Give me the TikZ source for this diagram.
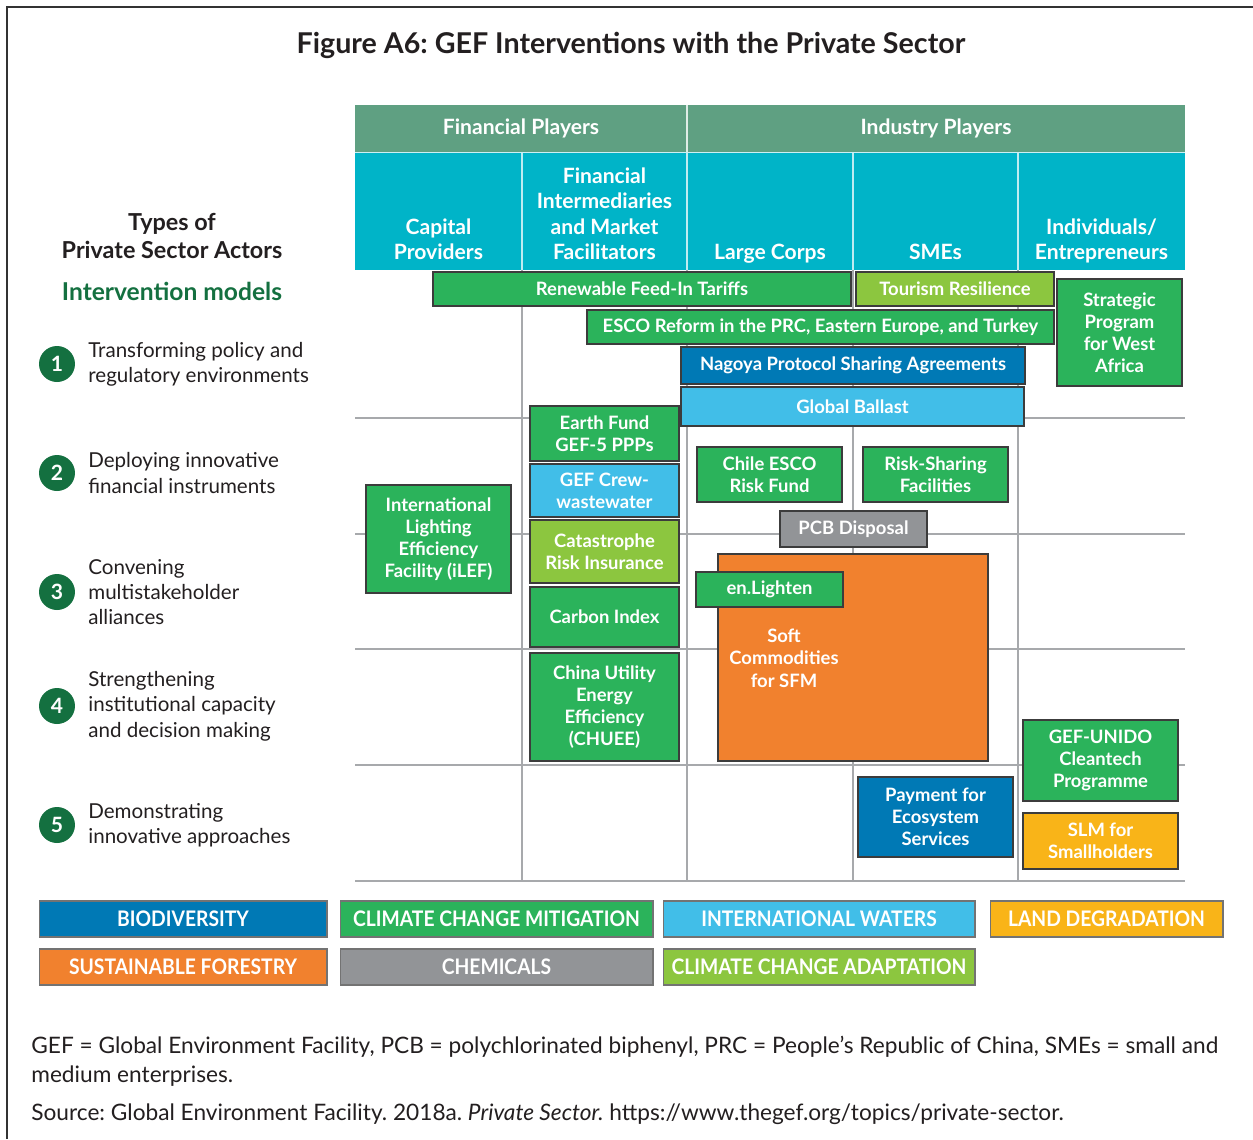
\documentclass[tikz,border=0pt]{standalone}
\usepackage{fontspec}
\setmainfont{Lato}
\newfontfamily\condfont[FakeStretch=0.9]{Lato}
\frenchspacing
\definecolor{hdrgreen}{HTML}{5FA082}
\definecolor{hdrcyan}{HTML}{00B4C8}
\definecolor{ccm}{HTML}{2BB35B}
\definecolor{cca}{HTML}{8CC63F}
\definecolor{bio}{HTML}{0079B5}
\definecolor{iw}{HTML}{41BEE8}
\definecolor{ld}{HTML}{F9B418}
\definecolor{sfm}{HTML}{F1812E}
\definecolor{chem}{HTML}{929497}
\definecolor{dkgreen}{HTML}{147040}
\definecolor{ink}{HTML}{231F20}
\definecolor{gridgray}{HTML}{A7A9AC}
\definecolor{boxedge}{HTML}{3C3C3C}
\newcommand\bx[7]{\node[gbox,fill=#6,minimum width={(#4-#2)*0.02cm},minimum height={(#5-#3)*0.02cm}] (#1) at ({(#2+#4)/2},{(#3+#5)/2}) {#7};}
\begin{document}
\begin{tikzpicture}[x=0.02cm,y=-0.02cm,
  gbox/.style={draw=boxedge,line width=0.7pt,text=white,font=\fontsize{10.5}{12.6}\selectfont\bfseries,align=center,inner sep=0pt,outer sep=0pt},
  legbox/.style={draw=black!55,line width=0.6pt,text=white,font=\condfont\fontsize{12.2}{14}\selectfont\bfseries,inner sep=0pt,outer sep=0pt},
  colhead/.style={text=white,font=\fontsize{12}{14.4}\selectfont\bfseries,align=center,inner sep=0pt},
  gridline/.style={draw=gridgray,line width=0.8pt},
  numcirc/.style={circle,fill=dkgreen,text=white,font=\fontsize{12}{14}\selectfont\bfseries,minimum size=0.72cm,inner sep=0pt},
  lbl/.style={text=ink,font=\fontsize{11.7}{14.4}\selectfont,align=left,inner sep=0pt},
  foot/.style={text=ink,font=\fontsize{12.9}{14}\selectfont,inner sep=0pt},
  boxtext/.style={text=white,font=\fontsize{10.5}{12.8}\selectfont\bfseries,align=center,inner sep=0pt}
]
\useasboundingbox (0,0) rectangle (1253,1139);
\fill[white] (0,0) rectangle (1253,1139);
% frame
\draw[line width=1.1pt,color=black!80] (7,1139) -- (7,7) -- (1253,7);
% title
\node[text=ink,font=\fontsize{16.3}{19}\selectfont\bfseries,inner sep=0pt] (title) at (631,45) {Figure A6: GEF Interventions with the Private Sector};
% header bands
\fill[hdrgreen] (355,105) rectangle (1185,152);
\fill[hdrcyan] (355,153) rectangle (1185,270);
\draw[white!80!hdrcyan,line width=0.9pt] (355,152.5) -- (1185,152.5);
\draw[white!80!hdrgreen,line width=0.9pt] (687,105) -- (687,152);
\foreach \x in {522,687,853,1018} \draw[white!75!hdrcyan,line width=0.9pt] (\x,153) -- (\x,270);
\node[colhead] (fin) at (521,128) {Financial Players};
\node[colhead] (ind) at (936,128) {Industry Players};
\node[colhead,anchor=south] (cap) at (438.5,267.5) {Capital\\Providers\strut};
\node[colhead,anchor=south] (fim) at (604.5,267.5) {Financial\\Intermediaries\\and Market\\Facilitators\strut};
\node[colhead,anchor=south] (lc) at (770,267.5) {Large Corps\strut};
\node[colhead,anchor=south] (sme) at (935.5,267.5) {SMEs\strut};
\node[colhead,anchor=south] (indv) at (1101.5,267.5) {Individuals/\\Entrepreneurs\strut};
% grid
\foreach \y in {418,534,649,765,881} \draw[gridline] (355,\y) -- (1185,\y);
\foreach \x in {522,687,853,1018} \draw[gridline] (\x,270) -- (\x,881);
% left labels
\node[text=ink,font=\fontsize{13.3}{16.5}\selectfont\bfseries,align=center,inner sep=0pt] (types) at (172,236) {Types of\\Private Sector Actors};
\node[text=dkgreen,font=\fontsize{14}{16}\selectfont\bfseries,inner sep=0pt] (models) at (172,291) {Intervention models};
\foreach \n/\y/\t in {1/364/{Transforming policy and\\regulatory environments},
                      2/473/{Deploying innovative\\financial instruments},
                      3/592/{Convening\\multistakeholder\\alliances},
                      4/706/{Strengthening\\institutional capacity\\and decision making},
                      5/825/{Demonstrating\\innovative approaches}}{
  \node[numcirc] (c\n) at (57,\y) {\n};
  \node[lbl,anchor=west] (l\n) at (88,\y) {\t};
}
% intervention boxes
\bx{rfit}{433}{272}{851}{306}{ccm}{Renewable Feed-In Tariffs}
\bx{tour}{856}{272}{1054}{306}{cca}{Tourism Resilience}
\bx{esco}{587}{310}{1054}{344}{ccm}{ESCO Reform in the PRC, Eastern Europe, and Turkey}
\bx{nagoya}{681}{347}{1025}{384}{bio}{Nagoya Protocol Sharing Agreements}
\bx{ballast}{681}{387}{1024}{426}{iw}{Global Ballast}
\bx{spwa}{1057}{279}{1182}{386}{ccm}{Strategic\\Program\\for West\\Africa}
\bx{earth}{530}{406}{679}{461}{ccm}{Earth Fund\\GEF-5 PPPs}
\bx{crew}{530}{464}{679}{517}{iw}{GEF Crew-\\wastewater}
\bx{cat}{530}{520}{679}{583}{cca}{Catastrophe\\Risk Insurance}
\bx{carbon}{530}{587}{679}{647}{ccm}{Carbon Index}
\bx{chuee}{530}{653}{679}{761}{ccm}{China Utility\\Energy\\Efficiency\\(CHUEE)}
\bx{ilef}{366}{485}{511}{593}{ccm}{International\\Lighting\\Efficiency\\Facility (iLEF)}
\bx{chile}{697}{447}{842}{502}{ccm}{Chile ESCO\\Risk Fund}
\bx{risk}{863}{447}{1008}{502}{ccm}{Risk-Sharing\\Facilities}
\bx{pcb}{780}{511}{927}{547}{chem}{PCB Disposal}
\bx{soft}{718}{554}{988}{761}{sfm}{}
\node[boxtext] (softlbl) at (784,658) {Soft\\Commodities\\for SFM};
\bx{enl}{696}{572}{843}{607}{ccm}{en.Lighten}
\bx{pes}{858}{777}{1013}{857}{bio}{Payment for\\Ecosystem\\Services}
\bx{unido}{1023}{720}{1178}{801}{ccm}{GEF-UNIDO\\Cleantech\\Programme}
\bx{slm}{1023}{813}{1178}{869}{ld}{SLM for\\Smallholders}
% legend
\node[legbox,fill=bio,minimum width=5.76cm,minimum height=0.72cm] (lbio) at (183,919) {BIODIVERSITY};
\node[legbox,fill=ccm,minimum width=6.26cm,minimum height=0.72cm] (lccm) at (496.5,919) {CLIMATE CHANGE MITIGATION};
\node[legbox,fill=iw,minimum width=6.24cm,minimum height=0.72cm] (liw) at (819,919) {INTERNATIONAL WATERS};
\node[legbox,fill=ld,minimum width=4.66cm,minimum height=0.72cm] (lld) at (1106.5,919) {LAND DEGRADATION};
\node[legbox,fill=sfm,minimum width=5.76cm,minimum height=0.72cm] (lsfm) at (183,967) {SUSTAINABLE FORESTRY};
\node[legbox,fill=chem,minimum width=6.26cm,minimum height=0.72cm] (lchem) at (496.5,967) {CHEMICALS};
\node[legbox,fill=cca,minimum width=6.24cm,minimum height=0.72cm] (lcca) at (819,967) {CLIMATE CHANGE ADAPTATION};
% footer
\node[foot,anchor=base west] (f1) at (31,1053) {GEF = Global Environment Facility, PCB = polychlorinated biphenyl, PRC = People’s Republic of China, SMEs = small and};
\node[foot,anchor=base west] (f2) at (31,1082) {medium enterprises.};
\node[foot,anchor=base west] (f3) at (31,1120) {Source: Global Environment Facility. 2018a. \textit{Private Sector.} https://www.thegef.org/topics/private-sector.};
\end{tikzpicture}
\end{document}
